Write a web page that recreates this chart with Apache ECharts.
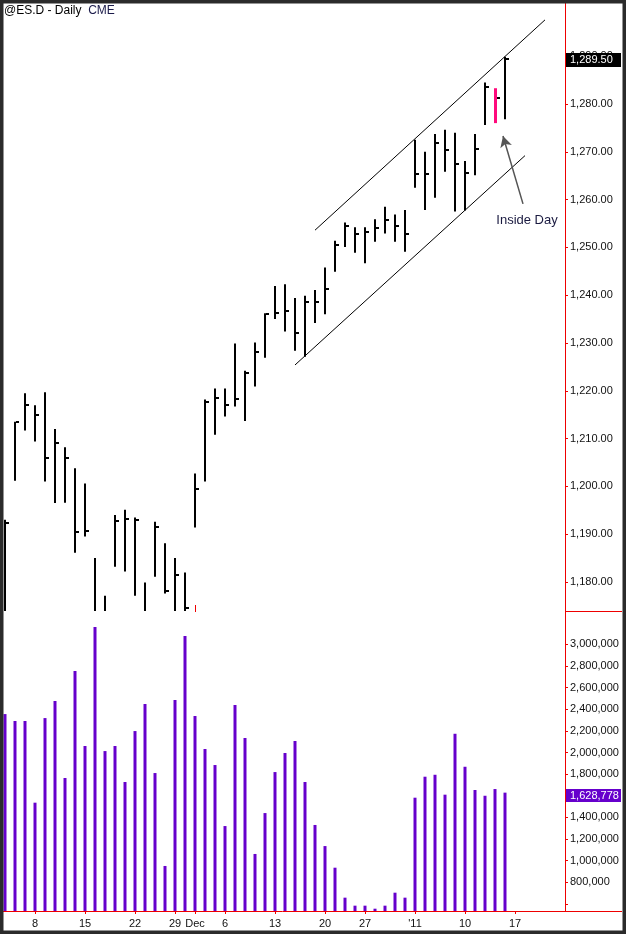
<!DOCTYPE html>
<html>
<head>
<meta charset="utf-8">
<script src="https://cdn.jsdelivr.net/npm/echarts@6/dist/echarts.min.js"></script>
<style>
html, body { margin: 0; padding: 0; background: #fff; }
#main { width: 626px; height: 934px; }
</style>
</head>
<body>
<div id="main"></div>
<script>
// trading days, Nov 3 2010 .. Jan 14 2011 (one slot each)
var days = ['11-03','11-04','11-05','11-08','11-09','11-10','11-11','11-12','11-15','11-16',
    '11-17','11-18','11-19','11-22','11-23','11-24','11-26','11-29','11-30',
    '12-01','12-02','12-03','12-06','12-07','12-08','12-09','12-10','12-13','12-14','12-15',
    '12-16','12-17','12-20','12-21','12-22','12-23','12-27','12-28','12-29','12-30','12-31',
    '01-03','01-04','01-05','01-06','01-07','01-10','01-11','01-12','01-13','01-14'];

var highs = [1193.0,1213.5,1219.5,1217.0,1219.7,1212.0,1208.2,1203.8,1200.6,1185.0,
    1177.1,1194.0,1195.1,1193.5,1179.9,1192.6,1188.1,1185.0,1182.0,1202.7,
    1218.2,1220.5,1220.5,1229.9,1224.2,1230.1,1236.2,1241.9,1242.3,1239.4,
    1239.9,1241.1,1245.8,1251.4,1255.2,1254.2,1254.2,1255.9,1258.5,1256.9,
    1257.8,1272.5,1270.0,1273.7,1274.6,1274.0,1268.1,1273.7,1284.5,1283.3,1289.9];
var lows = [1172.0,1201.2,1211.7,1209.4,1201.0,1196.5,1196.6,1186.1,1189.5,1172.5,
    1172.5,1183.2,1182.2,1177.1,1172.5,1181.1,1177.6,1172.5,1172.5,1191.4,
    1201.0,1210.8,1214.6,1216.7,1213.7,1220.9,1226.9,1235.0,1232.4,1228.4,
    1227.1,1234.2,1236.0,1244.9,1250.1,1248.9,1246.7,1251.2,1252.9,1251.2,
    1249.1,1262.5,1257.8,1260.4,1265.8,1257.5,1257.7,1265.1,1275.6,1276.0,1276.8];
var closes = [1192.3,1213.4,1217.0,1214.9,1205.9,1209.0,1205.9,1190.4,1190.6,1173.0,
    1173.0,1192.8,1193.2,1193.0,1173.0,1191.4,1178.2,1181.4,1174.5,1199.4,
    1217.7,1218.4,1217.0,1218.2,1223.7,1228.1,1236.0,1236.2,1236.6,1232.0,
    1238.6,1238.6,1241.2,1250.6,1254.5,1252.9,1253.2,1254.0,1255.7,1254.5,
    1252.9,1265.4,1265.4,1271.8,1270.4,1267.4,1265.5,1270.5,1283.5,1281.2,1289.5];
var volumes = [2355000,2291000,2291000,1536000,2318000,2476000,1764000,2753000,2060000,3160000,
    2013000,2060000,1727000,2198000,2448000,1810000,951000,2485000,3076000,2337000,
    2032000,1884000,1320000,2439000,2134000,1062000,1440000,1819000,1995000,2106000,
    1727000,1330000,1135000,935000,658000,584000,584000,556000,584000,704000,
    658000,1582000,1776000,1794000,1610000,2173000,1868000,1653000,1600000,1662000,1628778];

var insideDay = 49;

// channel lines [slot, price]
var upperChannel = [[31, 1253.6], [54, 1297.6]];
var lowerChannel = [[29, 1225.4], [52, 1269.2]];
// arrow to the inside day [slot, price]
var arrowFrom = [51.8, 1259.1];
var arrowTo = [49.8, 1273.3];
var noteAt = [52.2, 1255.7];

var xLabelSlots = [3, 8, 13, 17, 19, 22, 27, 32, 36, 41, 46, 51];
var xLabelTexts = ['8', '15', '22', '29', 'Dec', '6', '13', '20', '27', "'11", '10', '17'];
var priceTicks = [1180, 1190, 1200, 1210, 1220, 1230, 1240, 1250, 1260, 1270, 1280, 1290];
var volLabels = [800000, 1000000, 1200000, 1400000, 1600000, 1800000, 2000000, 2200000,
    2400000, 2600000, 2800000, 3000000];
var volTicks = [600000].concat(volLabels);

var FONT = 'Liberation Sans, Arial, sans-serif';
var RED = '#ee0000';

function withCommas(s) {
    return s.replace(/\B(?=(\d{3})+(?!\d))/g, ',');
}
function fmtPrice(v) {
    var p = v.toFixed(2).split('.');
    return withCommas(p[0]) + '.' + p[1];
}
function fmtVol(v) {
    return withCommas(String(Math.round(v)));
}

var barData = [];
var volData = [];
for (var i = 0; i < days.length; i++) {
    barData.push([i, highs[i], lows[i], closes[i]]);
    volData.push([i, volumes[i]]);
}

function renderBar(params, api) {
    var x = api.value(0);
    var top = api.coord([x, api.value(1)]);
    var bot = api.coord([x, api.value(2)]);
    var cl = api.coord([x, api.value(3)]);
    var inside = params.dataIndex === insideDay;
    var cx = Math.round(top[0]);
    return {
        type: 'group',
        children: [
            {
                type: 'rect',
                shape: { x: cx - 1, y: top[1], width: inside ? 3 : 2, height: bot[1] - top[1] },
                style: { fill: inside ? '#ff0a7c' : '#000' }
            },
            {
                type: 'rect',
                shape: { x: cx + (inside ? 2 : 1), y: Math.round(cl[1]) - 1, width: 3, height: 2 },
                style: { fill: '#000' }
            }
        ]
    };
}

var chart = echarts.init(document.getElementById('main'));
chart.setOption({
    animation: false,
    backgroundColor: '#fff',
    grid: [
        { left: 0, top: 3, width: 565, height: 608 },
        { left: 0, top: 612, width: 565, height: 299 }
    ],
    xAxis: [
        { type: 'value', gridIndex: 0, min: -0.5, max: 56, show: false },
        {
            type: 'value', gridIndex: 1, min: -0.5, max: 56,
            splitLine: { show: false },
            axisLine: { onZero: false, lineStyle: { color: RED, width: 1 } },
            axisTick: { customValues: xLabelSlots, length: 3, lineStyle: { color: RED } },
            axisLabel: {
                customValues: xLabelSlots,
                margin: 7,
                color: '#111',
                fontSize: 11,
                fontFamily: FONT,
                formatter: function (v) {
                    var k = xLabelSlots.indexOf(Math.round(v));
                    return k >= 0 ? xLabelTexts[k] : '';
                }
            }
        },
        {
            type: 'value', gridIndex: 1, min: -0.5, max: 56,
            splitLine: { show: false },
            axisLine: { show: false, onZero: false },
            axisLabel: { show: false },
            axisTick: { customValues: [19], length: 7, lineStyle: { color: RED } }
        }
    ],
    yAxis: [
        {
            type: 'value', gridIndex: 0, position: 'right',
            min: 1173.93, max: 1301.13,
            splitLine: { show: false },
            axisLine: { show: true, onZero: false, lineStyle: { color: RED } },
            axisTick: { show: true, customValues: priceTicks, length: 3, lineStyle: { color: RED } },
            axisLabel: {
                customValues: priceTicks, margin: 5, color: '#111',
                fontSize: 11, fontFamily: FONT, formatter: fmtPrice
            }
        },
        {
            type: 'value', gridIndex: 1, position: 'right',
            min: 534750, max: 3298500,
            splitLine: { show: false },
            axisLine: { show: true, onZero: false, lineStyle: { color: RED } },
            axisTick: { show: true, customValues: volTicks, length: 3, lineStyle: { color: RED } },
            axisLabel: {
                customValues: volLabels, margin: 5, color: '#111',
                fontSize: 11, fontFamily: FONT, formatter: fmtVol
            }
        }
    ],
    series: [
        {
            name: 'ES',
            type: 'custom',
            xAxisIndex: 0,
            yAxisIndex: 0,
            clip: true,
            renderItem: renderBar,
            data: barData,
            markLine: {
                silent: true,
                symbol: ['none', 'arrow'],
                symbolSize: [9, 11],
                label: { show: false },
                lineStyle: { color: '#555', width: 1.5, type: 'solid' },
                data: [[{ coord: arrowFrom }, { coord: arrowTo }]]
            },
            markPoint: {
                silent: true,
                symbol: 'circle',
                symbolSize: 0,
                label: {
                    show: true, position: 'inside', color: '#1a1a40',
                    fontSize: 13, fontFamily: FONT, formatter: 'Inside Day'
                },
                data: [{ coord: noteAt }]
            }
        },
        {
            type: 'line', xAxisIndex: 0, yAxisIndex: 0, data: upperChannel,
            symbol: 'none', silent: true,
            lineStyle: { color: '#000', width: 1 }
        },
        {
            type: 'line', xAxisIndex: 0, yAxisIndex: 0, data: lowerChannel,
            symbol: 'none', silent: true,
            lineStyle: { color: '#000', width: 1 }
        },
        {
            name: 'Volume',
            type: 'bar',
            xAxisIndex: 1,
            yAxisIndex: 1,
            barWidth: 3,
            itemStyle: { color: '#6600cc' },
            data: volData
        }
    ]
});

var lastPriceY = chart.convertToPixel({ yAxisIndex: 0 }, closes[closes.length - 1]);
var lastVolY = chart.convertToPixel({ yAxisIndex: 1 }, volumes[volumes.length - 1]);

chart.setOption({
    graphic: [
        {
            type: 'text', left: 4, top: 5, z: 10,
            style: {
                text: '{a|@ES.D - Daily  }{b|CME}',
                rich: {
                    a: { fill: '#000', fontSize: 12, fontFamily: FONT },
                    b: { fill: '#1b1b4a', fontSize: 12, fontFamily: FONT }
                }
            }
        },
        {
            type: 'line', z: 10,
            shape: { x1: 565, y1: 611.5, x2: 622, y2: 611.5 },
            style: { stroke: RED, lineWidth: 1 }
        },
        {
            type: 'line', z: 10,
            shape: { x1: 565, y1: 911.5, x2: 622, y2: 911.5 },
            style: { stroke: RED, lineWidth: 1 }
        },
        {
            type: 'rect', z: 20,
            shape: { x: 566, y: Math.round(lastPriceY) - 6, width: 55, height: 14 },
            style: { fill: '#000' }
        },
        {
            type: 'text', z: 21, x: 570, y: Math.round(lastPriceY) + 1,
            style: {
                text: fmtPrice(closes[closes.length - 1]), fill: '#fff',
                fontSize: 11, fontFamily: FONT, verticalAlign: 'middle'
            }
        },
        {
            type: 'rect', z: 20,
            shape: { x: 566, y: Math.round(lastVolY) - 4, width: 55, height: 13 },
            style: { fill: '#6600cc' }
        },
        {
            type: 'text', z: 21, x: 570, y: Math.round(lastVolY) + 2.5,
            style: {
                text: fmtVol(volumes[volumes.length - 1]), fill: '#fff',
                fontSize: 11, fontFamily: FONT, verticalAlign: 'middle'
            }
        },
        {
            type: 'rect', z: 30, silent: true,
            shape: { x: 0, y: 0, width: 626, height: 934 },
            style: { fill: 'none', stroke: '#2b2b2b', lineWidth: 7 }
        }
    ]
});
</script>
</body>
</html>
